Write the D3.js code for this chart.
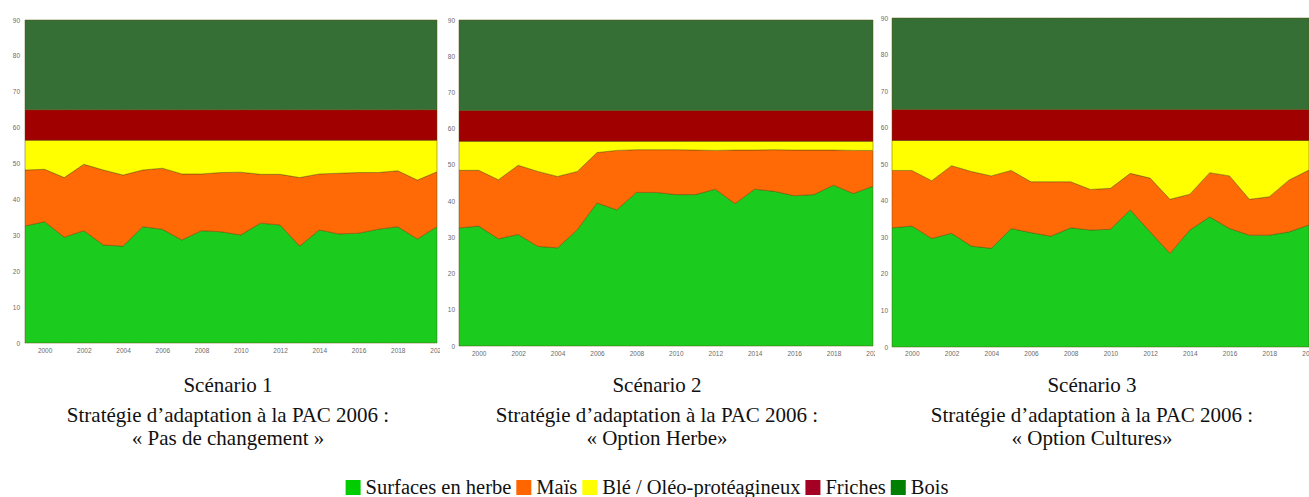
<!DOCTYPE html>
<html><head><meta charset="utf-8">
<script src="https://cdn.jsdelivr.net/npm/d3@7"></script>
<style>html,body{margin:0;padding:0;background:#fff;overflow:hidden}</style>
</head><body>
<svg id="chart" width="1309" height="497"></svg>
<script>
const years = [1999,2000,2001,2002,2003,2004,2005,2006,2007,2008,2009,2010,2011,2012,2013,2014,2015,2016,2017,2018,2019,2020];
const seriesNames = ["Surfaces en herbe","Maïs","Blé / Oléo-protéagineux","Friches","Bois"];
const yTicks = [0,10,20,30,40,50,60,70,80,90];
const xTicks = [2000,2002,2004,2006,2008,2010,2012,2014,2016,2018,2020];

// Scénario 1
const herbe1 = [32.6,33.8,29.5,31.3,27.3,27.0,32.4,31.7,28.7,31.3,31.0,30.1,33.4,32.9,27.0,31.5,30.4,30.6,31.7,32.4,29.0,32.4];
const mais1  = [15.6,14.6,16.6,18.5,20.9,19.8,15.8,17.0,18.4,15.8,16.5,17.5,13.6,14.1,19.1,15.6,16.9,16.9,15.8,15.6,16.4,15.3];
const ble1   = [8.3,8.1,10.4,6.7,8.3,9.7,8.3,7.8,9.4,9.4,9.0,8.9,9.5,9.5,10.4,9.4,9.2,9.0,9.0,8.5,11.1,8.8];
const friches1 = [8.5,8.5,8.5,8.5,8.5,8.5,8.5,8.5,8.5,8.5,8.5,8.5,8.5,8.5,8.5,8.5,8.5,8.5,8.5,8.5,8.5,8.5];
const bois1  = [25,25,25,25,25,25,25,25,25,25,25,25,25,25,25,25,25,25,25,25,25,25];

// Scénario 2
const herbe2 = [32.6,33.1,29.6,30.8,27.5,27.1,32.1,39.5,37.6,42.4,42.4,41.8,41.8,43.3,39.3,43.3,42.7,41.5,41.8,44.4,42.1,44.1];
const mais2  = [15.9,15.4,16.3,19.1,20.7,19.7,16.1,13.9,16.4,11.8,11.8,12.4,12.3,10.7,14.8,10.8,11.5,12.6,12.3,9.7,11.9,9.9];
const ble2   = [8.0,8.0,10.6,6.6,8.3,9.7,8.3,3.1,2.5,2.3,2.3,2.3,2.4,2.5,2.4,2.4,2.3,2.4,2.4,2.4,2.5,2.5];
const friches2 = [8.5,8.5,8.5,8.5,8.5,8.5,8.5,8.5,8.5,8.5,8.5,8.5,8.5,8.5,8.5,8.5,8.5,8.5,8.5,8.5,8.5,8.5];
const bois2  = [25,25,25,25,25,25,25,25,25,25,25,25,25,25,25,25,25,25,25,25,25,25];

// Scénario 3
const herbe3 = [32.6,33.1,29.7,31.1,27.6,27.0,32.4,31.3,30.3,32.6,32.0,32.2,37.5,31.5,25.6,32.0,35.6,32.4,30.6,30.6,31.5,33.4];
const mais3  = [15.7,15.2,15.8,18.5,20.4,19.8,15.9,13.9,14.9,12.6,11.1,11.2,10.0,14.7,14.8,9.8,12.1,14.4,9.8,10.5,14.2,15.0];
const ble3   = [8.2,8.2,11.0,6.9,8.5,9.7,8.2,11.3,11.3,11.3,13.4,13.1,9.0,10.3,16.1,14.7,8.8,9.7,16.1,15.4,10.8,8.1];
const friches3 = [8.5,8.5,8.5,8.5,8.5,8.5,8.5,8.5,8.5,8.5,8.5,8.5,8.5,8.5,8.5,8.5,8.5,8.5,8.5,8.5,8.5,8.5];
const bois3  = [25,25,25,25,25,25,25,25,25,25,25,25,25,25,25,25,25,25,25,25,25,25];

const captionTitles = ["Scénario 1","Scénario 2","Scénario 3"];
const captionLine2 = "Stratégie d\u2019adaptation à la PAC 2006 :";
const captionLine3 = ["« Pas de changement »","« Option Herbe»","« Option Cultures»"];

const areaColors = ["#1bcc1f","#ff6a06","#ffff00","#a00000","#366f36"];
const legendColors = ["#00cc00","#ff6600","#ffff00","#a30024","#008000"];

const panels = [
  {series:[herbe1,mais1,ble1,friches1,bois1], x0:25, x1:437, yT:20, yB:343, clipL:0, clipR:440, cx:228, yLabX:20, xLabY:355},
  {series:[herbe2,mais2,ble2,friches2,bois2], x0:459, x1:873, yT:20, yB:346, clipL:440, clipR:875, cx:657, yLabX:455, xLabY:358},
  {series:[herbe3,mais3,ble3,friches3,bois3], x0:892, x1:1309, yT:18, yB:347, clipL:875, clipR:1309, cx:1092, yLabX:888, xLabY:358}
];

const svg = d3.select("#chart");
const defs = svg.append("defs");
const serif = "'Liberation Serif', 'Times New Roman', serif";

panels.forEach((p, pi) => {
  const table = years.map((yr, i) => {
    const row = {year: yr};
    seriesNames.forEach((k, si) => row[k] = p.series[si][i]);
    return row;
  });
  const stacked = d3.stack().keys(seriesNames)(table);
  const x = d3.scaleLinear().domain([1999, 2020]).range([p.x0, p.x1]);
  const y = d3.scaleLinear().domain([0, 90]).range([p.yB, p.yT]);

  const cid = "clip" + pi;
  defs.append("clipPath").attr("id", cid).append("rect")
    .attr("x", p.clipL).attr("y", 0).attr("width", p.clipR - p.clipL).attr("height", 370);
  const g = svg.append("g").attr("clip-path", `url(#${cid})`);

  const area = d3.area().x(d => x(d.data.year)).y0(d => y(d[0])).y1(d => y(d[1]));
  g.selectAll("path.layer").data(stacked).join("path")
    .attr("class","layer")
    .attr("d", area)
    .attr("fill", (d, i) => areaColors[i])
    .attr("stroke", "rgba(90,70,0,0.45)")
    .attr("stroke-width", 1)
    .attr("stroke-linejoin","round");

  const ya = d3.axisLeft(y).tickValues(yTicks).tickSize(0).tickPadding(0);
  const yg = g.append("g").attr("transform", `translate(${p.yLabX},0)`).call(ya);
  yg.select(".domain").remove();
  yg.selectAll("text").attr("font-family","'Liberation Sans', Arial, sans-serif").attr("font-size", 6.5).attr("fill","#6a6a6a");

  const xa = d3.axisBottom(x).tickValues(xTicks).tickFormat(d3.format("d")).tickSize(0).tickPadding(0);
  const xg = g.append("g").attr("transform", `translate(0,${p.xLabY - 7})`).call(xa);
  xg.select(".domain").remove();
  xg.selectAll("text").attr("font-family","'Liberation Sans', Arial, sans-serif").attr("font-size", 6.5).attr("fill","#6a6a6a");

  const cap = svg.append("g").attr("font-family", serif).attr("font-size", 21).attr("fill","#111").attr("text-anchor","middle");
  cap.append("text").attr("x", p.cx).attr("y", 392).text(captionTitles[pi]);
  cap.append("text").attr("x", p.cx).attr("y", 422).text(captionLine2);
  cap.append("text").attr("x", p.cx).attr("y", 445).text(captionLine3[pi]);
});

// legend
const lg = svg.append("g").attr("font-family", serif).attr("font-size", 20.5).attr("fill","#111");
let cur = 0;
seriesNames.forEach((name, i) => {
  const it = lg.append("g");
  it.append("rect").attr("x", 0).attr("y", -14).attr("width", 15).attr("height", 15).attr("fill", legendColors[i]);
  const t = it.append("text").attr("x", 20).attr("y", 0).text(name);
  const w = 20 + t.node().getComputedTextLength();
  it.attr("transform", `translate(${cur},0)`);
  cur += w + 5;
});
const total = cur - 5;
lg.attr("transform", `translate(${647 - total/2},494)`);
</script>
</body></html>
